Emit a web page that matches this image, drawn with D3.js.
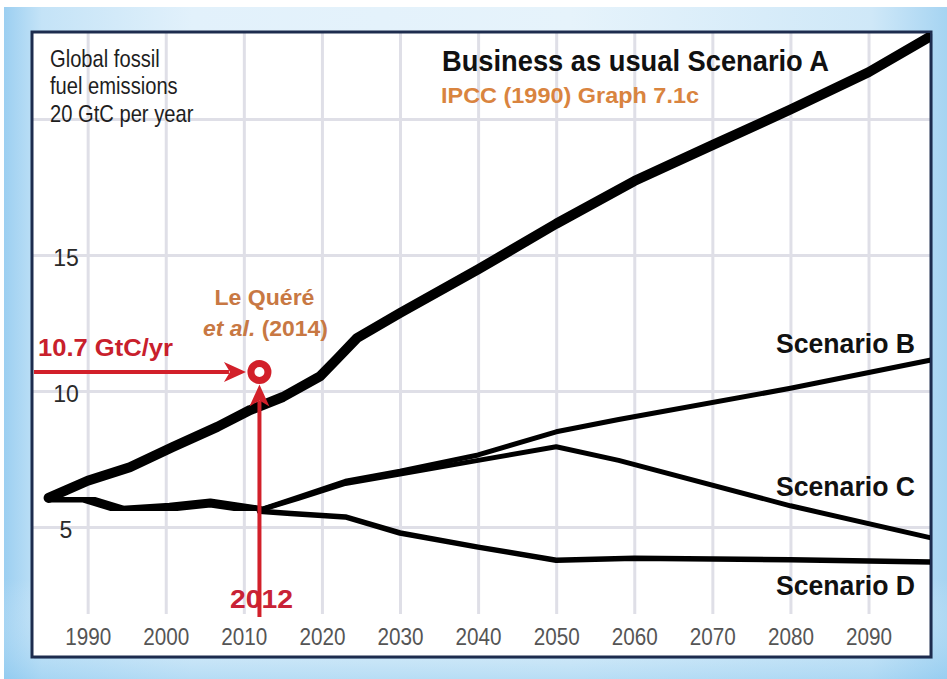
<!DOCTYPE html>
<html><head><meta charset="utf-8">
<script src="https://cdn.jsdelivr.net/npm/d3@7"></script>
<style>
html,body{margin:0;padding:0;background:#fff;}
svg{display:block;font-family:"Liberation Sans",Arial,Helvetica,sans-serif;}
</style></head>
<body><svg id="chart" width="947" height="679"></svg>
<script>
// ---- data ----
const yearTicks = [1990, 2000, 2010, 2020, 2030, 2040, 2050, 2060, 2070, 2080, 2090];
const valueTicks = [5, 10, 15];
const gridValues = [5, 10, 15, 20];
const historyLine = [[1985,6.07],[1989.4,6.07],[1994.5,5.62],[2000.5,5.73],[2005.7,5.88],[2012,5.62]];
const scenarioA = [[1985,6.07],[1990,6.7],[1995.4,7.2],[2000.9,7.94],[2006.6,8.68],[2010.8,9.3],[2015,9.78],[2019.8,10.55],[2022,11.2],[2024.5,11.95],[2030,12.87],[2040,14.47],[2050,16.15],[2060,17.72],[2070,19.04],[2080,20.35],[2090,21.72],[2098,23.05]];
const scenarioB = [[2012,5.62],[2017,6.1],[2023,6.68],[2030,7.05],[2040,7.65],[2050,8.5],[2058,8.95],[2080,10.1],[2098,11.14]];
const scenarioC = [[2012,5.62],[2017,6.05],[2023,6.6],[2030,6.95],[2040,7.45],[2050,7.95],[2058,7.45],[2080,5.78],[2098,4.6]];
const scenarioD = [[2012,5.58],[2016,5.5],[2023,5.37],[2030,4.78],[2040,4.26],[2050,3.78],[2060,3.85],[2080,3.8],[2098,3.71]];
const observed = {year: 2012, value: 10.7};
const observedLabel = "10.7 GtC/yr";
const observedYearLabel = "2012";
const scenarioLabels = [
  {text:"Scenario B", year:2098, value:11.14},
  {text:"Scenario C", year:2098, value:4.6},
  {text:"Scenario D", year:2098, value:3.71}
];

// ---- layout ----
const svg = d3.select("#chart");
const frame = {x0:32, y0:32, x1:931, y1:657};
const x = d3.scaleLinear().domain([1983, 2098]).range([33, 931]);
const y = d3.scaleLinear().domain([0, 23.2]).range([663, 32]);

const defs = svg.append("defs");
const bg = defs.append("linearGradient").attr("id","bgH").attr("x1","0").attr("x2","1").attr("y1","0").attr("y2","0");
[["0%","#9ccff1"],["4%","#c4e3f7"],["20%","#e2f1fb"],["60%","#e6f3fb"],["92%","#cfe8f8"],["100%","#a6d4f2"]]
  .forEach(([o,c])=>bg.append("stop").attr("offset",o).attr("stop-color",c));
const bgV = defs.append("linearGradient").attr("id","bgV").attr("x1","0").attr("x2","0").attr("y1","0").attr("y2","1");
[["0%","#ffffff",0],["85%","#ffffff",0],["100%","#8ac8ef",0.5]]
  .forEach(([o,c,a])=>bgV.append("stop").attr("offset",o).attr("stop-color",c).attr("stop-opacity",a));
defs.append("clipPath").attr("id","plotClip").append("rect")
  .attr("x",frame.x0+1).attr("y",frame.y0+1).attr("width",frame.x1-frame.x0-2).attr("height",frame.y1-frame.y0-2);
const blur = defs.append("filter").attr("id","soft").attr("x","-5%").attr("y","-5%").attr("width","110%").attr("height","110%");
blur.append("feGaussianBlur").attr("stdDeviation","0.6");

svg.append("rect").attr("x",4).attr("y",7).attr("width",943).attr("height",672).attr("fill","url(#bgH)");
svg.append("rect").attr("x",4).attr("y",7).attr("width",943).attr("height",672).attr("fill","url(#bgV)");

// plot frame
svg.append("rect").attr("x",frame.x0+2).attr("y",frame.y0+2).attr("width",frame.x1-frame.x0).attr("height",frame.y1-frame.y0)
  .attr("fill","#7aa6c8").attr("opacity",0.35);
svg.append("rect").attr("x",frame.x0).attr("y",frame.y0).attr("width",frame.x1-frame.x0).attr("height",frame.y1-frame.y0)
  .attr("fill","#ffffff");

// gridlines via axes
const gx = svg.append("g").attr("transform",`translate(0,${frame.y0+1})`)
  .call(d3.axisBottom(x).tickValues(yearTicks).tickSize(613-frame.y0).tickFormat(""));
gx.select(".domain").remove();
gx.selectAll("line").attr("stroke","#dfdfe7").attr("stroke-width",3);
const gy = svg.append("g").attr("transform",`translate(${frame.x0+1},0)`)
  .call(d3.axisRight(y).tickValues(gridValues).tickSize(frame.x1-frame.x0-2).tickFormat(""));
gy.select(".domain").remove();
gy.selectAll("line").attr("stroke","#dfdfe7").attr("stroke-width",3);

// tick labels via axes
const ax = svg.append("g").attr("transform",`translate(0,645)`)
  .call(d3.axisBottom(x).tickValues(yearTicks).tickSize(0).tickPadding(0).tickFormat(d3.format("d")));
ax.select(".domain").remove();
ax.selectAll("text").attr("y",0).attr("dy",0).attr("font-size",23).attr("fill","#555")
  .attr("font-family","Liberation Sans, Arial, sans-serif").attr("textLength",46).attr("lengthAdjust","spacingAndGlyphs");
const ay = svg.append("g").attr("transform",`translate(66,0)`)
  .call(d3.axisLeft(y).tickValues(valueTicks).tickSize(0).tickPadding(0));
ay.select(".domain").remove();
ay.selectAll("text").attr("x",0).attr("text-anchor","middle").attr("dy","0.45em").attr("font-size",23)
  .attr("fill","#2a2a2a").attr("font-family","Liberation Sans, Arial, sans-serif");

// frame border
svg.append("rect").attr("x",frame.x0).attr("y",frame.y0).attr("width",frame.x1-frame.x0).attr("height",frame.y1-frame.y0)
  .attr("fill","none").attr("stroke","#1d2c4e").attr("stroke-width",3);

// texts top-left (uniformly condensed)
const tl = ["Global fossil","fuel emissions","20 GtC per year"];
const tlg = svg.append("g").attr("transform","translate(50,0) scale(0.84,1)");
tl.forEach((t,i)=>tlg.append("text").attr("x",0).attr("y",67+i*27.5).text(t)
  .attr("font-size",24).attr("fill","#1e1e1e"));

svg.append("text").attr("x",442).attr("y",71).text("Business as usual Scenario A")
  .attr("font-size",30).attr("font-weight","bold").attr("fill","#111")
  .attr("textLength",387).attr("lengthAdjust","spacingAndGlyphs");
svg.append("text").attr("x",441).attr("y",103).text("IPCC (1990) Graph 7.1c")
  .attr("font-size",22).attr("font-weight","bold").attr("fill","#d9843f")
  .attr("textLength",258).attr("lengthAdjust","spacingAndGlyphs");

// lines
const line = d3.line().x(d=>x(d[0])).y(d=>y(d[1]));
const plot = svg.append("g").attr("clip-path","url(#plotClip)");
const series = [
  {data:scenarioD, w:5.5},
  {data:scenarioC, w:5},
  {data:scenarioB, w:5},
  {data:historyLine, w:9},
  {data:scenarioA, w:10}
];
plot.selectAll("path.s").data(series).join("path").attr("class","s")
  .attr("d",d=>line(d.data)).attr("fill","none").attr("stroke","#050505")
  .attr("stroke-width",d=>d.w).attr("stroke-linejoin","round").attr("stroke-linecap","round")
  .attr("filter","url(#soft)");

// scenario labels
svg.selectAll("text.sl").data(scenarioLabels).join("text").attr("class","sl")
  .attr("x",915).attr("text-anchor","end")
  .attr("y",(d,i)=>[353,496,595][i]).text(d=>d.text)
  .attr("font-size",28).attr("font-weight","bold").attr("fill","#111")
  .attr("textLength",139).attr("lengthAdjust","spacingAndGlyphs");

// red annotation
const red = "#d2202a";
const cx = x(observed.year), cy = y(observed.value);
const r = 8.5;
svg.append("line").attr("x1",frame.x0+2).attr("x2",cx-r-22).attr("y1",cy).attr("y2",cy)
  .attr("stroke",red).attr("stroke-width",4);
svg.append("path").attr("d",`M${cx-r-5},${cy} L${cx-r-27},${cy-10} L${cx-r-21},${cy} L${cx-r-27},${cy+10} Z`).attr("fill",red);
const vb = 617;
svg.append("text").attr("x",cx+2).attr("y",608).attr("text-anchor","middle").text(observedYearLabel)
  .attr("font-size",25).attr("font-weight","bold").attr("fill","#c82236")
  .attr("textLength",63).attr("lengthAdjust","spacingAndGlyphs");
svg.append("line").attr("x1",cx).attr("x2",cx).attr("y1",vb).attr("y2",cy+r+20)
  .attr("stroke",red).attr("stroke-width",4);
svg.append("path").attr("d",`M${cx},${cy+r+4} L${cx-10},${cy+r+26} L${cx},${cy+r+20} L${cx+10},${cy+r+26} Z`).attr("fill",red);
svg.append("circle").attr("cx",cx).attr("cy",cy).attr("r",r).attr("fill","#fff").attr("stroke",red).attr("stroke-width",7);

svg.append("text").attr("x",38).attr("y",356).text(observedLabel)
  .attr("font-size",23).attr("font-weight","bold").attr("fill","#c8202c")
  .attr("textLength",135).attr("lengthAdjust","spacingAndGlyphs");

// Le Quéré label
const brown = "#c87843";
svg.append("text").attr("x",cx+5).attr("y",305).attr("text-anchor","middle").text("Le Quéré")
  .attr("font-size",22).attr("font-weight","bold").attr("fill",brown)
  .attr("textLength",100).attr("lengthAdjust","spacingAndGlyphs");
const t2 = svg.append("text").attr("x",203).attr("y",336)
  .attr("font-size",22).attr("font-weight","bold").attr("fill",brown)
  .attr("textLength",125).attr("lengthAdjust","spacingAndGlyphs");
t2.append("tspan").attr("font-style","italic").text("et al.");
t2.append("tspan").text(" (2014)");
</script></body></html>
